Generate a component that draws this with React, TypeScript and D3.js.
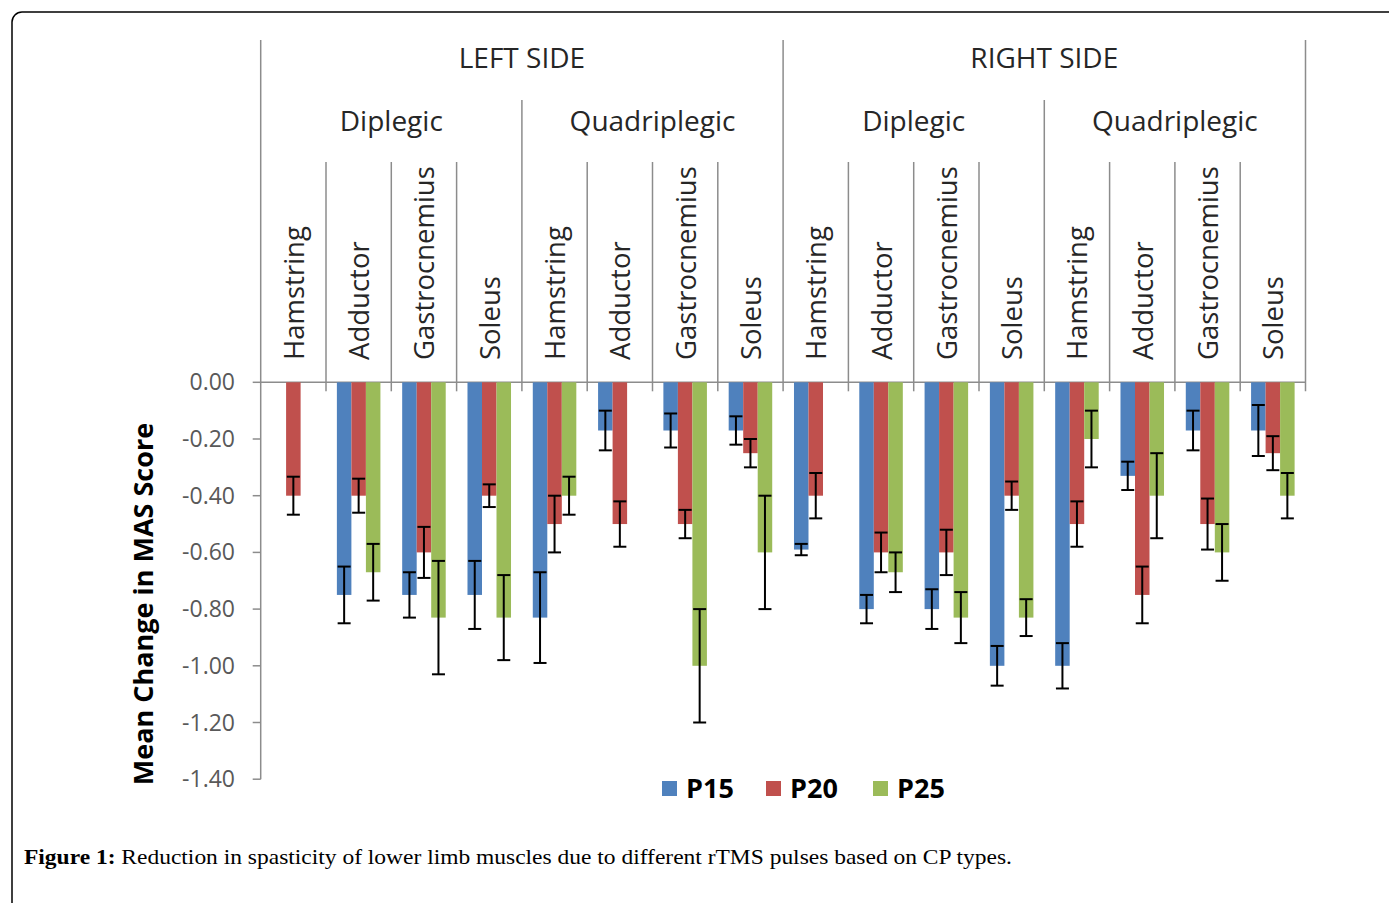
import React from "react";
import * as d3 from "d3";

const sides = ["LEFT SIDE", "RIGHT SIDE"];
const cpTypes = ["Diplegic", "Quadriplegic"];
const muscles = ["Hamstring", "Adductor", "Gastrocnemius", "Soleus"];
const seriesNames = ["P15", "P20", "P25"];
const seriesColors = ["#4F81BD", "#C0504D", "#9BBB59"];

// 16 groups: side x type x muscle
const p15 = [null, -0.75, -0.75, -0.75, -0.83, -0.17, -0.17, -0.17, -0.59, -0.8, -0.8, -1.0, -1.0, -0.33, -0.17, -0.17];
const p20 = [-0.4, -0.4, -0.6, -0.4, -0.5, -0.5, -0.5, -0.25, -0.4, -0.6, -0.6, -0.4, -0.5, -0.75, -0.5, -0.25];
const p25 = [null, -0.67, -0.83, -0.83, -0.4, null, -1.0, -0.6, null, -0.67, -0.83, -0.83, -0.2, -0.4, -0.6, -0.4];
const p15err = [0, 0.1, 0.08, 0.12, 0.16, 0.07, 0.06, 0.05, 0.02, 0.05, 0.07, 0.07, 0.08, 0.05, 0.07, 0.09];
const p20err = [0.067, 0.06, 0.09, 0.04, 0.1, 0.08, 0.05, 0.05, 0.08, 0.07, 0.08, 0.05, 0.08, 0.1, 0.09, 0.06];
const p25err = [0, 0.1, 0.2, 0.15, 0.067, 0, 0.2, 0.2, 0, 0.07, 0.09, 0.065, 0.1, 0.15, 0.1, 0.08];
const yTicks = [0, -0.2, -0.4, -0.6, -0.8, -1.0, -1.2, -1.4];

const seriesValues = [p15, p20, p25];
const seriesErrors = [p15err, p20err, p25err];

export default function App() {
  const W = 1389, H = 903;
  const left = 260.7, right = 1305.5, top0 = 382.3, bottom = 779.2;
  const groups = d3.range(16);
  const x = d3.scaleBand<number>().domain(groups).range([left, right]).paddingInner(0).paddingOuter(0);
  const inner = d3.scaleBand<number>().domain([0, 1, 2]).range([0, x.bandwidth()]).paddingOuter(0.75).paddingInner(0);
  const y = d3.scaleLinear().domain([-1.4, 0]).range([bottom, top0]);
  const font = "'Open Sans', sans-serif";
  const gridC = "#8c8c8c";
  const bw = inner.bandwidth();

  const boundaries = d3.range(17).map((i) => ({ x: left + i * x.bandwidth(), i }));

  return (
    <svg width={W} height={H} style={{ position: "fixed", left: 0, top: 0, background: "#fff" }} fontFamily={font}>
      <rect x={12} y={12} width={1420} height={950} rx={10} fill="none" stroke="#000" strokeWidth={1.5} />

      {/* header separators */}
      {boundaries.map(({ x: bx, i }) => {
        const y1 = i % 8 === 0 ? 40 : i % 4 === 0 ? 100 : 162;
        return <line key={"b" + i} x1={bx} x2={bx} y1={y1} y2={i === 0 ? bottom : top0 + 9} stroke={gridC} strokeWidth={1.5} />;
      })}
      {/* y ticks */}
      {yTicks.map((t) => (
        <g key={"t" + t}>
          <line x1={left - 8} x2={left} y1={y(t)} y2={y(t)} stroke={gridC} strokeWidth={1.5} />
          <text x={235} y={y(t)} dy="0.35em" textAnchor="end" fontSize={23} fill="#595959">
            {d3.format(".2f")(t).replace("−", "-")}
          </text>
        </g>
      ))}
      <line x1={left} x2={right} y1={top0} y2={top0} stroke={gridC} strokeWidth={1.5} />

      {/* header labels */}
      {sides.map((s, si) => (
        <text key={s} x={left + (si * 8 + 4) * x.bandwidth()} y={68} textAnchor="middle" fontSize={28} fill="#262626">
          {s}
        </text>
      ))}
      {sides.map((s, si) =>
        cpTypes.map((c, ci) => (
          <text key={s + c} x={left + (si * 8 + ci * 4 + 2) * x.bandwidth()} y={131} textAnchor="middle" fontSize={28} fill="#262626">
            {c}
          </text>
        ))
      )}
      {groups.map((g) => {
        const cx = (x(g) as number) + x.bandwidth() / 2 + 10.5;
        return (
          <text key={"m" + g} transform={`translate(${cx},360) rotate(-90)`} fontSize={27.5} fill="#262626">
            {muscles[g % 4]}
          </text>
        );
      })}

      {/* bars */}
      {seriesValues.map((vals, si) =>
        vals.map((v, g) => {
          if (v === null) return null;
          const bx = (x(g) as number) + (inner(si) as number);
          return <rect key={`r${si}-${g}`} x={bx} y={y(0)} width={bw} height={y(v) - y(0)} fill={seriesColors[si]} />;
        })
      )}
      {/* error bars */}
      {seriesValues.map((vals, si) =>
        vals.map((v, g) => {
          if (v === null) return null;
          const e = seriesErrors[si][g];
          const cx = (x(g) as number) + (inner(si) as number) + bw / 2;
          const ya = y(v + e), yb = y(v - e);
          return (
            <g key={`e${si}-${g}`} stroke="#000" strokeWidth={2}>
              <line x1={cx} x2={cx} y1={ya} y2={yb} />
              <line x1={cx - 6.5} x2={cx + 6.5} y1={ya} y2={ya} />
              <line x1={cx - 6.5} x2={cx + 6.5} y1={yb} y2={yb} />
            </g>
          );
        })
      )}

      {/* y axis title */}
      <text transform="translate(153,604) rotate(-90)" textAnchor="middle" fontSize={27} fontWeight="bold" fill="#000">
        Mean Change in MAS Score
      </text>

      {/* legend */}
      {seriesNames.map((n, i) => {
        const lx = [662, 766, 873][i];
        return (
          <g key={n}>
            <rect x={lx} y={781} width={15} height={15} fill={seriesColors[i]} />
            <text x={lx + 24} y={798} fontSize={27} fontWeight="bold" fill="#000">
              {n}
            </text>
          </g>
        );
      })}

      {/* caption */}
      <text x={24} y={864} fontSize={21} fontFamily="'Liberation Serif', serif" fill="#000" textLength={988} lengthAdjust="spacingAndGlyphs">
        <tspan fontWeight="bold">Figure 1:</tspan>
        <tspan> Reduction in spasticity of lower limb muscles due to different rTMS pulses based on CP types.</tspan>
      </text>
    </svg>
  );
}
